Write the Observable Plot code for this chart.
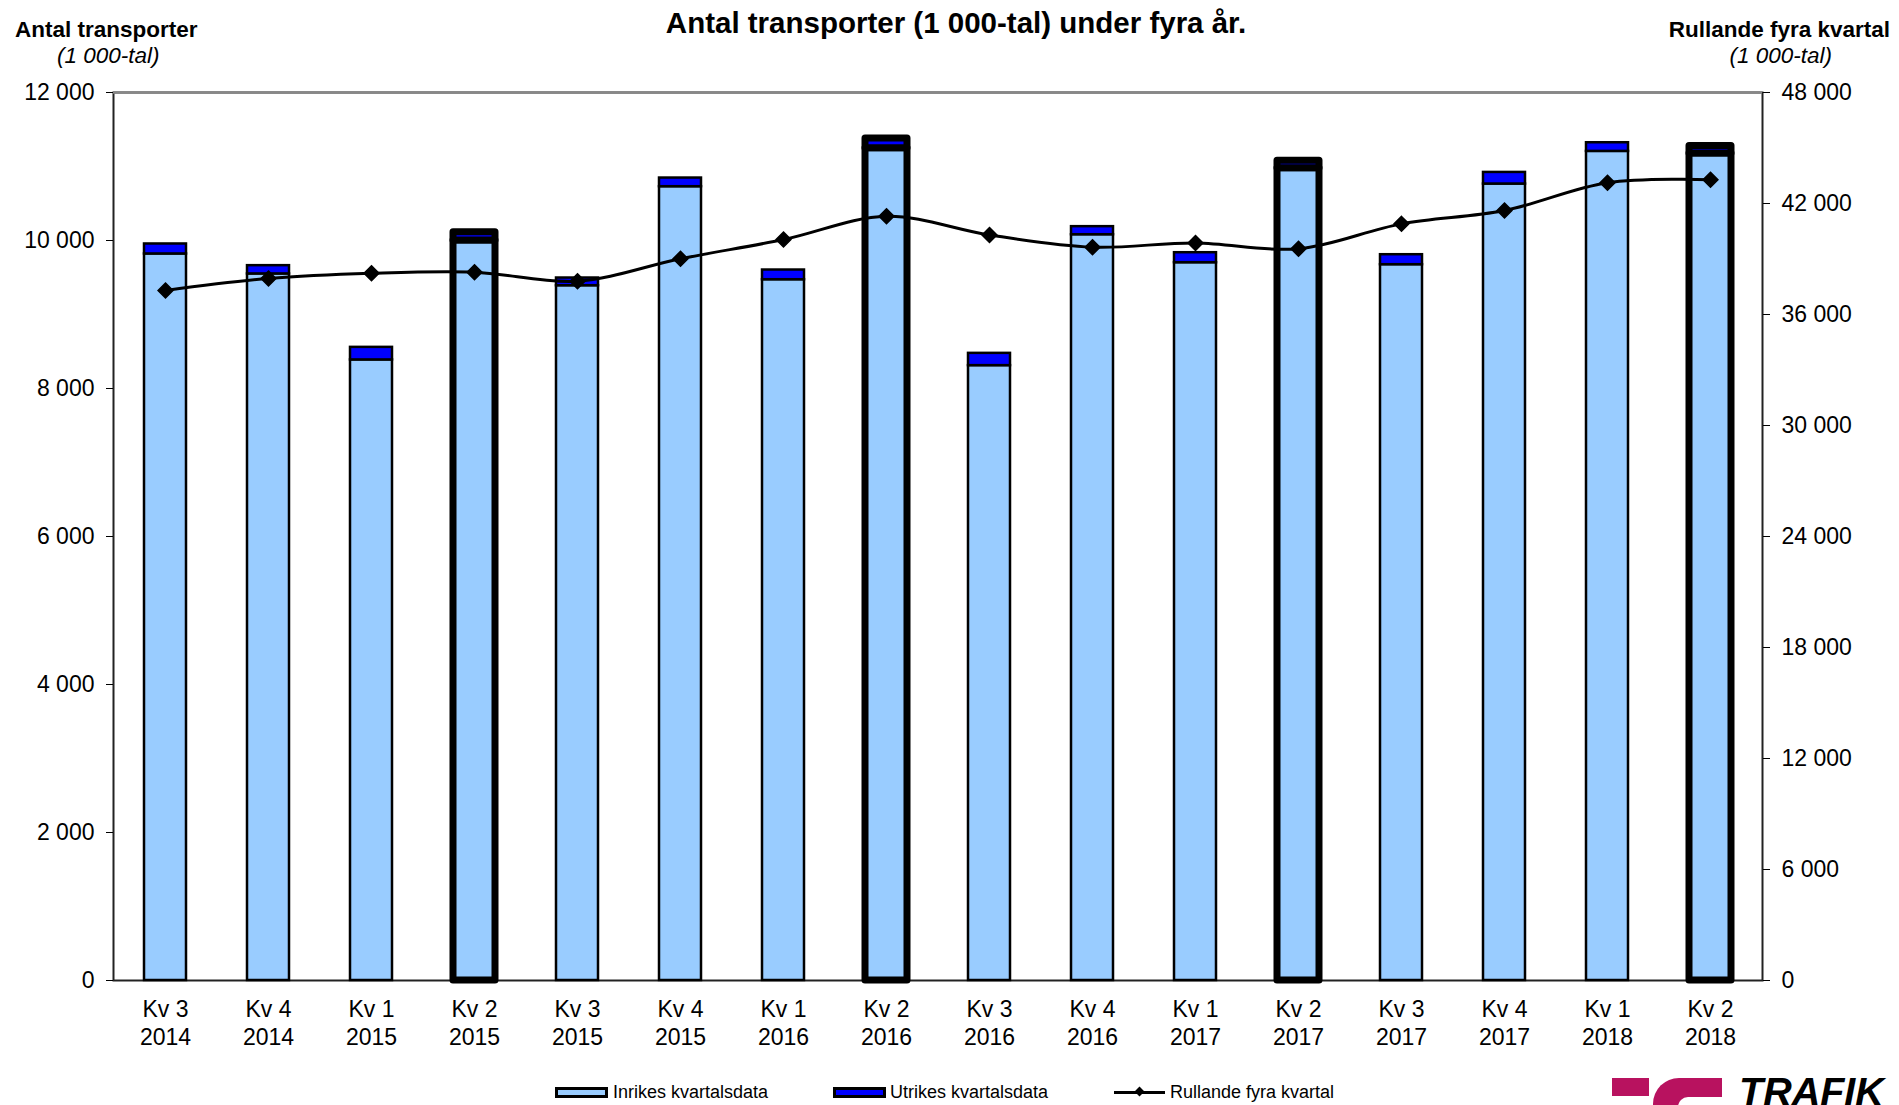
<!DOCTYPE html>
<html><head><meta charset="utf-8">
<script src="https://cdn.jsdelivr.net/npm/d3@7"></script>
<script src="https://cdn.jsdelivr.net/npm/@observablehq/plot@0.6"></script>
<style>
html,body{margin:0;padding:0;background:#fff;}
body{width:1899px;height:1105px;overflow:hidden;position:relative;font-family:'Liberation Sans',Arial,sans-serif;}
#chart{position:absolute;left:0;top:0;}
.t{position:absolute;white-space:nowrap;line-height:1;color:#000;}
.b{font-weight:bold;}
.i{font-style:italic;}
.sw{position:absolute;box-sizing:border-box;border:3px solid #000;width:53px;height:11px;}
</style></head><body>
<div id="chart"></div>
<div class="t b" style="font-size:29.5px;left:956px;top:8px;transform:translateX(-50%);">Antal transporter (1 000-tal) under fyra år.</div>
<div class="t b" style="font-size:22.5px;left:15px;top:19px;">Antal transporter</div>
<div class="t i" style="font-size:22.5px;left:57px;top:45px;">(1 000-tal)</div>
<div class="t b" style="font-size:22.5px;right:9px;top:19px;">Rullande fyra kvartal</div>
<div class="t i" style="font-size:22.5px;right:67px;top:45px;">(1 000-tal)</div>

<div class="sw" style="left:555px;top:1087px;background:#99CCFF;"></div>
<div class="t" style="font-size:18px;left:613px;top:1082.5px;">Inrikes kvartalsdata</div>
<div class="sw" style="left:833px;top:1087px;background:#0000FF;"></div>
<div class="t" style="font-size:18px;left:890px;top:1082.5px;">Utrikes kvartalsdata</div>
<div style="position:absolute;left:1114px;top:1090.5px;width:51px;height:3px;background:#000;"></div>
<div style="position:absolute;left:1135.5px;top:1088px;width:7px;height:7px;background:#000;transform:rotate(45deg);"></div>
<div class="t" style="font-size:18px;left:1170px;top:1082.5px;">Rullande fyra kvartal</div>

<div style="position:absolute;left:1611.7px;top:1078px;width:37.6px;height:18px;background:#B8125F;"></div>
<div style="position:absolute;left:1653px;top:1078px;width:69px;height:40px;background:#B8125F;border-top-left-radius:26px;"></div>
<div style="position:absolute;left:1678px;top:1096.7px;width:50px;height:30px;background:#fff;border-top-left-radius:10px;"></div>
<div class="t b i" style="font-size:39.5px;left:1739px;top:1072px;">TRAFIK</div>

<script>
const quarters = ["Kv 3","Kv 4","Kv 1","Kv 2","Kv 3","Kv 4","Kv 1","Kv 2","Kv 3","Kv 4","Kv 1","Kv 2","Kv 3","Kv 4","Kv 1","Kv 2"];
const years = ["2014","2014","2015","2015","2015","2015","2016","2016","2016","2016","2017","2017","2017","2017","2018","2018"];
const inrikes = [9818, 9548, 8386, 10000, 9389, 10727, 9470, 11245, 8309, 10078, 9700, 10978, 9673, 10763, 11204, 11177];
const utrikes = [135, 112, 170, 110, 104, 117, 131, 133, 166, 109, 135, 100, 135, 157, 117, 100];
const rolling = [37300, 37950, 38230, 38290, 37800, 39010, 40050, 41310, 40300, 39640, 39870, 39550, 40900, 41620, 43120, 43290];
const leftTicks = [0, 2000, 4000, 6000, 8000, 10000, 12000];
const rightTicks = [0, 6000, 12000, 18000, 24000, 30000, 36000, 42000, 48000];
const highlighted = ["Kv 2"];

const leftMax = 12000, rightMax = 48000;
const ratio = rightMax / leftMax;
const fmt = v => d3.format(",")(v).replace(/,/g, "\u00a0");
const keys = quarters.map((q, i) => q + " " + years[i]);
const qOf = new Map(keys.map((k, i) => [k, quarters[i]]));
const yOf = new Map(keys.map((k, i) => [k, years[i]]));
const data = keys.map((k, i) => ({
  key: k, inrikes: inrikes[i], total: inrikes[i] + utrikes[i],
  rolling: rolling[i], thick: highlighted.includes(quarters[i])
}));
const normal = data.filter(d => !d.thick);
const thick = data.filter(d => d.thick);

const chart = Plot.plot({
  width: 1899, height: 1105,
  marginLeft: 113, marginRight: 137, marginTop: 92, marginBottom: 125,
  x: {domain: keys, paddingInner: 0.59, paddingOuter: 0.295, align: 0.5, label: null},
  y: {domain: [0, leftMax], label: null},
  style: {fontFamily: "'Liberation Sans', Arial, sans-serif", fontSize: "23px", color: "black", background: "transparent", overflow: "visible"},
  marks: [
    Plot.frame({stroke: "#222", strokeWidth: 2}),
    Plot.ruleY([leftMax], {stroke: "#888", strokeWidth: 2.5}),
    Plot.barY(normal, {x: "key", y1: 0, y2: "inrikes", fill: "#99CCFF", stroke: "black", strokeWidth: 2.5}),
    Plot.barY(normal, {x: "key", y1: "inrikes", y2: "total", fill: "#0000FF", stroke: "black", strokeWidth: 2.5}),
    Plot.barY(thick, {x: "key", y1: 0, y2: "inrikes", fill: "#99CCFF", stroke: "black", strokeWidth: 7, strokeLinejoin: "round"}),
    Plot.barY(thick, {x: "key", y1: "inrikes", y2: "total", fill: "#0000FF", stroke: "black", strokeWidth: 7, strokeLinejoin: "round"}),
    Plot.line(data, {x: "key", y: d => d.rolling / ratio, curve: "catmull-rom", stroke: "black", strokeWidth: 3}),
    Plot.dot(data, {x: "key", y: d => d.rolling / ratio, symbol: "diamond2", r: 6.7, fill: "black", stroke: "black"}),
    Plot.axisY({anchor: "left", ticks: leftTicks, tickFormat: fmt, tickSize: 7, tickPadding: 12, fontSize: 23, label: null}),
    Plot.axisY({anchor: "right", ticks: rightTicks.map(v => v / ratio), tickFormat: v => fmt(Math.round(v * ratio)), tickSize: 7, tickPadding: 12, fontSize: 23, label: null}),
    Plot.axisX({tickSize: 0, tickPadding: 20, tickFormat: d => qOf.get(d), fontSize: 23, label: null}),
    Plot.axisX({tickSize: 0, tickPadding: 48, tickFormat: d => yOf.get(d), fontSize: 23, label: null})
  ]
});
document.getElementById("chart").appendChild(chart);
</script>
</body></html>
